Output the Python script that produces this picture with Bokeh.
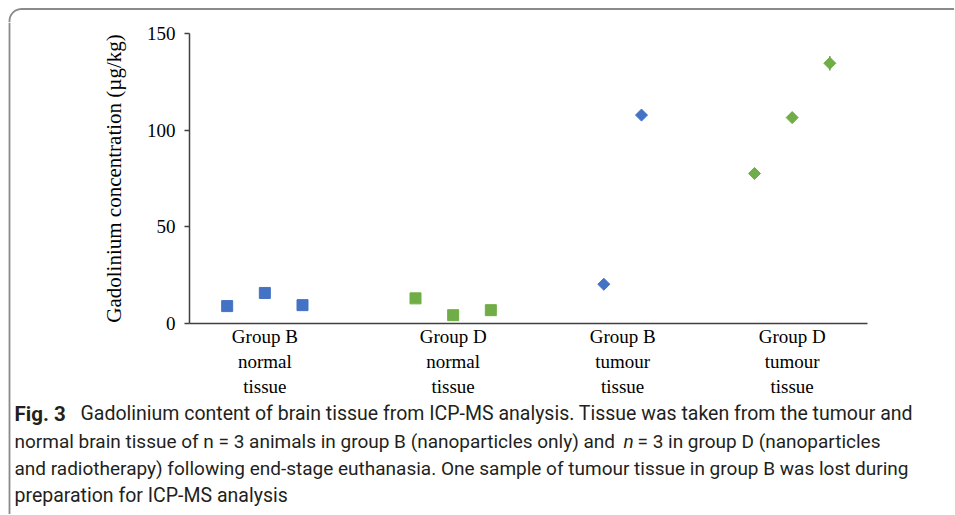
import numpy as np
from bokeh.plotting import figure
from bokeh.layouts import column, row
from bokeh.models import Range1d, FixedTicker
from bokeh.core.properties import value
from bokeh.embed import file_html
from bokeh.resources import INLINE

# ---- data ----
categories = ["Group B\nnormal\ntissue", "Group D\nnormal\ntissue",
              "Group B\ntumour\ntissue", "Group D\ntumour\ntissue"]
category_pos = [2, 7, 11.5, 16]

b_normal_x = [1, 2, 3]
b_normal_y = [9.0, 15.8, 9.5]
d_normal_x = [6, 7, 8]
d_normal_y = [13.0, 4.3, 6.9]
b_tumour_x = [11, 12]
b_tumour_y = [20.3, 107.8]
d_tumour_x = [15, 16, 17]
d_tumour_y = [77.6, 106.5, 134.6]
d_tumour_err = [1.5, 2.8, 3.8]

y_ticks = [0, 50, 100, 150]

# (text, style, left x, font size)
caption_lines = [
    [("Fig. 3", "bold", 14, "20.5px"),
     ("Gadolinium content of brain tissue from ICP-MS analysis. Tissue was taken from the tumour and", "normal", 80, "19.5px")],
    [("normal brain tissue of n = 3 animals in group B (nanoparticles only) and", "normal", 14, "19px"),
     ("n", "italic", 623, "19px"),
     ("= 3 in group D (nanoparticles", "normal", 637, "19px")],
    [("and radiotherapy) following end-stage euthanasia. One sample of tumour tissue in group B was lost during", "normal", 14, "19px")],
    [("preparation for ICP-MS analysis", "normal", 14, "19.5px")],
]
caption_y = [413, 441, 468, 495]

BLUE = "#4472C4"
GREEN = "#70AD47"
SERIF = "Liberation Serif"
CAP_FONT = "Roboto"
FRAME = "#8a8a8a"
AX = "#404040"

PAGE_W = 954
TOP_H = 22
LEFT_W = 12
CHART_BOTTOM = 401
PAGE_H = 514


def blank(w, h, xr, yr):
    f = figure(width=w, height=h, output_backend="svg", toolbar_location=None,
               x_range=Range1d(*xr), y_range=Range1d(*yr), min_border=0)
    f.axis.visible = False
    f.grid.visible = False
    f.outline_line_color = None
    f.background_fill_color = "white"
    f.border_fill_color = "white"
    f.frame_align = False
    return f

# ---- top bar with rounded corner ----
r = 12
top = blank(PAGE_W, TOP_H, (0, PAGE_W), (TOP_H, 0))
ang = np.radians(np.linspace(90, 180, 16))
cx, cy = 9 + r, 8.5 + r
tx = [PAGE_W] + list(cx + r * np.cos(ang)) + [9]
ty = [8.5] + list(cy - r * np.sin(ang)) + [TOP_H]
top.line(tx, ty, line_color=FRAME, line_width=1.8)

# ---- left bar ----
left = blank(LEFT_W, PAGE_H - TOP_H, (0, LEFT_W), (PAGE_H, TOP_H))
left.line([9, 9], [TOP_H, PAGE_H], line_color=FRAME, line_width=1.8)

# ---- chart ----
CW = PAGE_W - LEFT_W
CH = CHART_BOTTOM - TOP_H
p = figure(width=CW, height=CH, output_backend="svg", toolbar_location=None,
           x_range=Range1d(0, 18), y_range=Range1d(0, 150),
           min_border_left=189 - LEFT_W, min_border_right=PAGE_W - 867,
           min_border_top=33 - TOP_H, min_border_bottom=CHART_BOTTOM - 323)
p.frame_align = False
p.xgrid.visible = False
p.ygrid.visible = False
p.outline_line_color = None
p.background_fill_color = "white"
p.border_fill_color = "white"

p.yaxis.ticker = FixedTicker(ticks=y_ticks)
p.yaxis.minor_tick_line_color = None
p.yaxis.major_tick_in = 0
p.yaxis.major_tick_out = 5
p.yaxis.axis_line_color = AX
p.yaxis.axis_line_width = 1.5
p.yaxis.major_tick_line_color = AX
p.yaxis.major_tick_line_width = 1.5
p.yaxis.major_label_text_font = SERIF
p.yaxis.major_label_text_font_size = "19px"
p.yaxis.major_label_text_color = "black"
p.yaxis.major_label_standoff = 9
p.yaxis.axis_label = "Gadolinium concentration (µg/kg)"
p.yaxis.axis_label_text_font = SERIF
p.yaxis.axis_label_text_font_size = "21px"
p.yaxis.axis_label_text_font_style = "normal"
p.yaxis.axis_label_text_color = "black"
p.yaxis.axis_label_standoff = 18

p.xaxis.ticker = FixedTicker(ticks=category_pos)
p.xaxis.major_label_overrides = {pos: lab for pos, lab in zip(category_pos, categories)}
p.xaxis.minor_tick_line_color = None
p.xaxis.major_tick_line_color = None
p.xaxis.major_tick_out = 0
p.xaxis.major_tick_in = 0
p.xaxis.axis_line_color = AX
p.xaxis.axis_line_width = 1.5
p.xaxis.major_label_text_font = SERIF
p.xaxis.major_label_text_font_size = "19px"
p.xaxis.major_label_text_color = "black"
p.xaxis.major_label_standoff = 2

# error bars
p.segment(x0=d_tumour_x, x1=d_tumour_x,
          y0=[y - e for y, e in zip(d_tumour_y, d_tumour_err)],
          y1=[y + e for y, e in zip(d_tumour_y, d_tumour_err)],
          line_color="#8c8c8c", line_width=1.5)

# points
p.scatter(b_normal_x, b_normal_y, marker="square", size=11, color=BLUE)
p.scatter(d_normal_x, d_normal_y, marker="square", size=11, color=GREEN)
p.scatter(b_tumour_x, b_tumour_y, marker="square", angle=np.pi / 4, size=8.5, color=BLUE)
p.scatter(d_tumour_x, d_tumour_y, marker="square", angle=np.pi / 4, size=8.5, color=GREEN)

# ---- caption ----
cap = blank(CW, PAGE_H - CHART_BOTTOM, (LEFT_W, PAGE_W), (PAGE_H, CHART_BOTTOM))
for (segs, yy) in zip(caption_lines, caption_y):
    for (txt, style, xx, fs) in segs:
        cap.text(x=[xx], y=[yy], text=[txt], text_font=value(CAP_FONT),
                 text_font_size=fs, text_font_style=style,
                 text_color="#231f20", text_align="left", text_baseline="middle")

layout = column(top, row(left, column(p, cap, spacing=0), spacing=0), spacing=0)
open("out.html", "w").write(file_html(layout, INLINE))
